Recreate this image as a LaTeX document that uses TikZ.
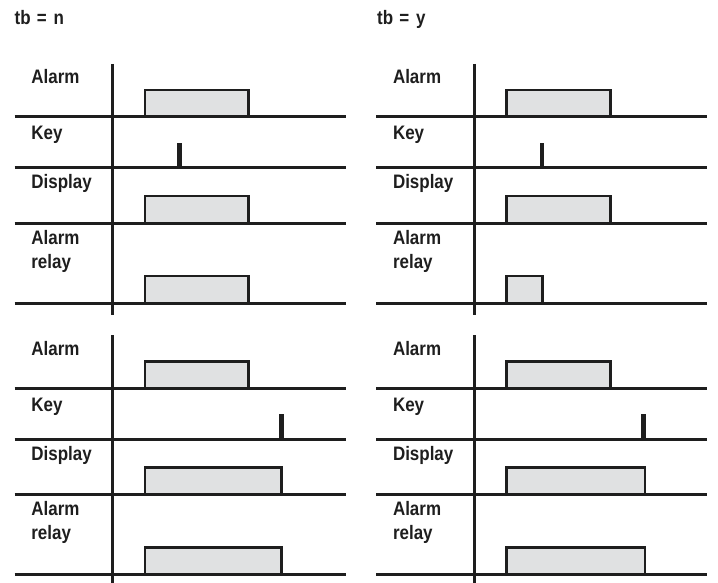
\documentclass[tikz,border=0pt]{standalone}
\usepackage{fontspec}
\setmainfont{Liberation Sans}
\newfontfamily\chartfont[FakeStretch=0.87]{Liberation Sans}
\usetikzlibrary{positioning}
\definecolor{pulsegray}{RGB}{224,225,226}
\definecolor{inkblack}{RGB}{30,30,30}

\begin{document}
\begin{tikzpicture}[x=1pt,y=-1pt]
\tikzstyle{lane} = [
	draw=inkblack,
	line width=3pt %signal base lines and time axis
];
\tikzstyle{pulse} = [
	fill=pulsegray, %fill the space of the pulse
	draw=inkblack,
	line width=2.8pt
];
\tikzstyle{press} = [
	draw=inkblack,
	line width=4.8pt
];
\tikzstyle{signame} = [
	anchor=base west,
	inner sep=0pt,
	text=inkblack,
	font=\chartfont\bfseries\fontsize{19.5}{22}\selectfont
];

\useasboundingbox (0,0) rectangle (718,583);

%titles
\node[signame](tbn) at (14.5,25) {tb\hspace{1.5pt} =\hspace{2pt} n};
\node[signame](tby) at (377,25) {tb\hspace{1.5pt} =\hspace{2pt} y};

%one chart per case: name / shift / key press / end of alarm, display, relay
\foreach \name/\sx/\sy/\kx/\ae/\de/\re in {
	a/112.7/117/66.5/135.5/135.5/135.5,
	b/474.3/117/67.7/136.4/136.4/68.4,
	c/112.7/388.3/169/135.5/169/169,
	d/474.3/388.3/169/136.4/170.7/170.7}
{
\begin{scope}[shift={(\sx,\sy)}]
	\node[signame](\name-alarm) at (-81.5,-33) {Alarm};
	\node[signame](\name-key) at (-81.5,23) {Key};
	\node[signame](\name-display) at (-81.5,72) {Display};
	\node[signame](\name-relay) at (-81.5,127) {Alarm};
	\node[signame](\name-relay2) at (-81.5,151) {relay};

	%pulses
	\filldraw[pulse] (32.3,0) -- (32.3,-27) -- (\ae,-27) -- (\ae,0);
	\filldraw[pulse] (32.3,106) -- (32.3,79) -- (\de,79) -- (\de,106);
	\filldraw[pulse] (32.3,186) -- (32.3,159) -- (\re,159) -- (\re,186);
	\draw[press] (\kx,51) -- (\kx,26);

	%time axis and base lines
	\draw[lane] (0,-53) -- (0,198);
	\foreach \ly in {0,51,106,186}
		\draw[lane] (-98,\ly) -- (233,\ly);
\end{scope}
}

\end{tikzpicture}
\end{document}
